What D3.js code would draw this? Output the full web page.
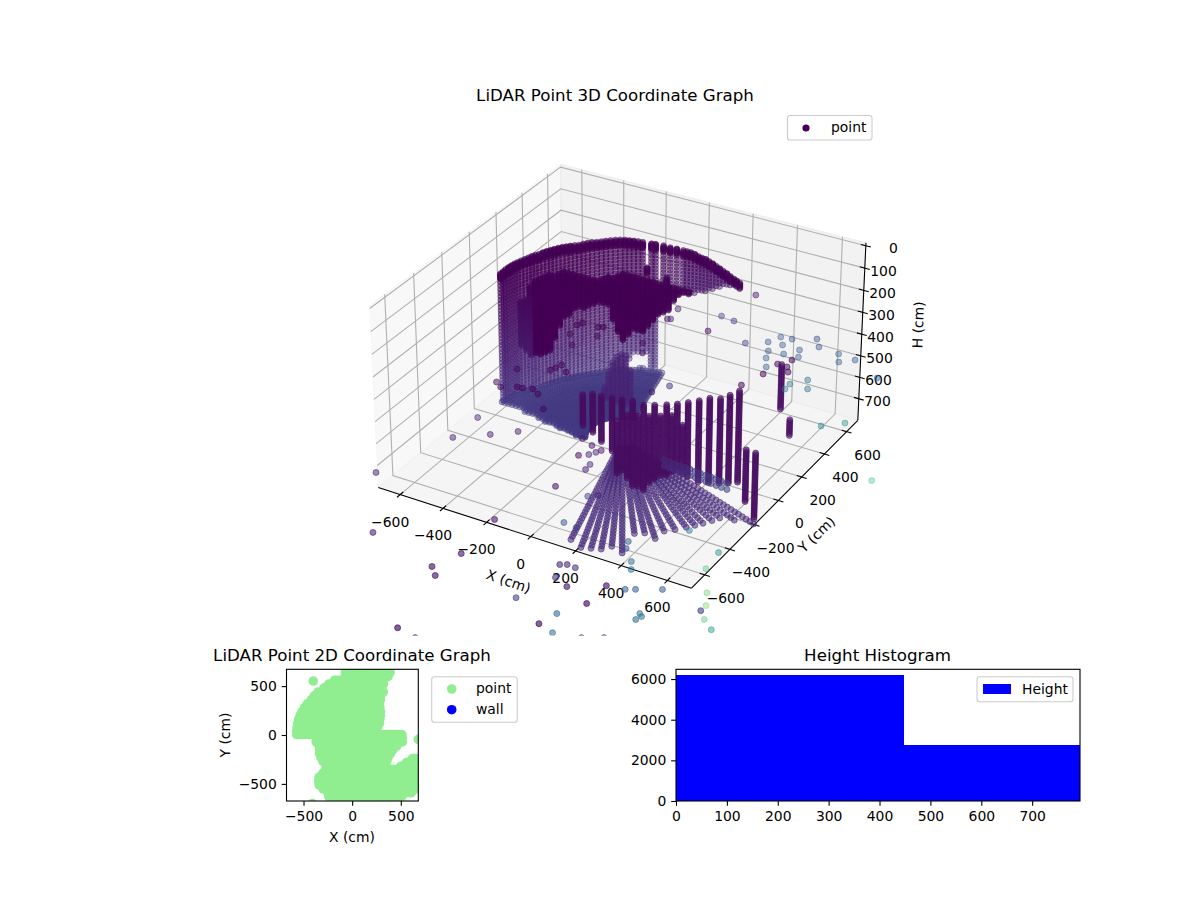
<!DOCTYPE html>
<html><head><meta charset="utf-8">
<script src="https://cdnjs.cloudflare.com/ajax/libs/d3/7.8.5/d3.min.js"></script>
<style>html,body{margin:0;background:#fff}text{font-family:"DejaVu Sans",sans-serif;fill:#000}</style>
</head><body><svg id="c" width="1200" height="900"></svg>
<script>
// ---------- data (cm) ----------
const titles3d = "LiDAR Point 3D Coordinate Graph";
const xyTicks = [-600,-400,-200,0,200,400,600];
const hTicks = [0,100,200,300,400,500,600,700];
const scanRows = [48,64,80,96,112,128,144,160,176,192,208,224,240,256,272,288,304,320,336,352,368,384,400,416,432,448,464,480,496,512,528,544,560,576,592,608,624,640,656,672,688,704,720,736,752,768,784];
// [x, y, first H, last H] wall columns of the far side
const wallColumns = [[-560,0,137,720],[-555,30,131,720],[-545,60,124,720],[-535,90,121,720],[-520,120,117,720],[-505,150,113,720],[-490,180,114,720],[-472,210,109,720],[-455,240,109,720],[-435,270,108,720],[-415,300,112,720],[-393,330,115,720],[-370,360,113,720],[-345,390,116,720],[-320,420,118,720],[-290,445,117,720],[-260,470,120,720],[-230,490,126,640],[-200,510,133,640],[-170,530,141,720],[-125,550,147,374],[-100,560,154,372],[-50,580,163,367],[-20,590,169,354],[10,600,184,350],[40,605,192,339],[70,610,205,324],[100,615,223,308],[130,620,240,293],[160,625,258,282],[185,630,273,285],
[-557,15,134,720],[-550,45,128,720],[-540,75,122,720],[-528,105,119,720],[-512,135,115,720],[-498,165,113,720],[-481,195,111,720],[-463,225,109,720],[-445,255,108,720],[-425,285,110,720],[-404,315,113,720],[-382,345,114,720],[-358,375,114,720],[-332,405,117,720],[-305,432,117,720],[-275,458,118,720],[-245,480,123,680],[-215,500,129,640],[-185,520,250,640],[-155,537,143,720],[-112,555,293,372],[-75,570,158,370],[-35,585,166,360],[-5,595,176,352],[25,602,188,345],[55,607,198,330],[85,612,214,316],[115,617,231,300],[145,622,249,288],[172,627,265,284]];
const rimDepths = [0,5,10,15,20,25];
// near dark mass under the ceiling
const nearColumns = [[-562,150,334,540],[-539,150,305,547],[-516,150,254,560],[-493,150,224,553],[-471,150,203,546],[-448,150,187,539],[-426,150,172,524],[-403,150,161,449],[-379,150,150,396],[-357,150,138,344],[-334,150,132,324],[-312,150,135,300],[-289,150,137,284],[-266,150,139,272],[-244,150,143,262],[-220,150,136,250],[-198,150,129,239],[-175,150,118,232],[-152,150,107,226],[-130,150,101,302],[-107,150,85,340],[-85,150,74,370],[-61,150,72,350],[-38,150,74,307],[-16,150,72,314],[7,150,70,316],[29,150,69,279],[52,150,67,240],[75,150,69,219],[98,150,67,199],[121,150,65,184],[144,150,68,131],[166,150,65,111],[189,150,68,95],[211,150,70,88]];
const nearDepths = [0,5,10];
// central stem
const stemColumns = [[-200,200,645,730],[-180,200,570,770],[-160,200,527,770],[-140,200,488,767],[-120,200,468,762],[-100,200,477,733],[-80,200,541,681]];
const stemValue = .09;
// front rods
const rodColumns = [[103,-479,244,397],[147,-480,230,410],[183,-477,226,445],[226,-470,225,479],[264,-461,236,547],[303,-448,236,608],[341,-431,242,628],[377,-411,243,585],[415,-386,244,565],[447,-361,248,547],[477,-331,255,590],[506,-298,246,620],[532,-262,247,633],[556,-221,257,648],[575,-180,263,665],[591,-134,268,684],[670,-220,455,690],[700,-200,470,780],[600,200,312,525],[640,205,547,629],
[245,-466,330,560],[284,-455,300,578],[322,-440,300,618],[359,-421,300,607],[396,-399,300,575],[431,-374,300,556],[462,-346,340,568]];
const rodDepths = [0,8];
const rodValue = .035;
// curved band behind the rod feet
const bandX = [486,509,532,555,579,602,625,648,672,695,718,741,765,508,531,554,577,601,624,647,670,694,717,740,763,787];
const bandY = [-529,-531,-534,-536,-538,-540,-543,-545,-547,-549,-552,-554,-556,-568,-570,-573,-575,-577,-579,-582,-584,-586,-588,-591,-593,-595];
// floor fan behind the rods: azimuth (deg), outer range (cm)
const fanAzimuth = [102,105,108,111,114,117,120,123,126,129,132,135,138,141,144,147,150,153,156,159,162,165,168,171,174,177,180,183,186,189,192,195,198,201,204,207,210,213];
const fanAzimuthB = [103.5,106.5,109.5,112.5,115.5,118.5,121.5,124.5,127.5,130.5,133.5,136.5,139.5,142.5,145.5,148.5,151.5,154.5,157.5,160.5,163.5,166.5,169.5,172.5,175.5,178.5,181.5,184.5,187.5,190.5,193.5,196.5,199.5,202.5,205.5,208.5,211.5,214.5];
const fanOuter = [530,540,545,548,540,535,531,531,525,520,518,516,515,514,514,514,514,514,518,522,526,530,535,540,548,555,558,451,378,330,288,258,234,215,199,186,175,166];
const fanRanges = [150,168,186,204,222,240,258,276,294,312,330,348,366,384,402,420,438,456,474,492,510,528,546,558];
const fanHeight = 720;
const fanValue = .17;
// front floor spokes: azimuth (deg), outer range (cm)
const spokeAzimuth = [-75.1,-71.4,-68.6,-65.8,-63,-60.1,-56.2,-52.9,-50.2,-46.6,-43,-39.2,-36.2,-33.3,-30,-27,-24,-20.9];
const spokeOuter = [766,808,801,796,793,831,687,691,735,705,693,684,690,699,700,699,740,805];
const spokeRanges = [70,92,114,136,158,180,200,222,244,266,288,310,332,354,376,398,420,442,464,486,508,530,552,574,596,618,640,662,684,706,728,750,772,794,816];
const spokeHeight = 740;
const spokeValue = .12;
// scattered returns: [x, y, H, colour value]
const scattered = [
[-697,-722,720,.08],[-580,-349,720,.08],[-463,-255,720,.06],[-379,-180,720,.06],[-577,-169,720,.08],[-128,-98,720,.06],[-68,-125,720,.05],[-17,-139,720,.06],[-76,-216,720,.03],[-44,-190,720,.1],[-28,-162,720,.1],[2,-293,720,.08],[-2,-252,720,.12],[-36,-458,720,.04],[-115,-777,720,.05],[-466,-1084,720,.08],[-98,-1039,720,.05],[-145,-1167,720,.04],[-102,-1211,720,.05],[-35,-1562,720,.05],[54,-1582,720,.05],[234,-1185,720,.2],[358,-1030,720,.07],[291,-1000,720,.15],[260,-918,720,.12],[284,-904,720,.12],[321,-907,720,.15],[125,-663,720,.25],[184,-670,720,.2],[109,-457,720,.2],[140,-431,720,.1],[481,-952,720,.05],[477,-1088,720,.05],[393,-1285,720,.06],[416,-1198,720,.33],[465,-1309,720,.38],[571,-1284,720,.08],[641,-1243,720,.1],[553,-938,720,.3],[586,-919,720,.28],[672,-870,720,.3],[481,-767,720,.35],[507,-814,720,.35],[403,-654,720,.3],[420,-700,720,.25],[677,-1047,720,.38],[692,-1060,720,.38],[683,-1087,720,.33],[566,-473,720,.4],[734,-551,720,.48],[745,-670,720,.7],[824,-807,720,.75],[861,-882,720,.78],[898,-963,720,.72],[860,-920,720,.2],[951,-1007,720,.55],[1009,194,720,.65],
[181,782,400,.02],[-38,518,400,.08],[-34,423,400,.05],[-23,430,400,.08],[144,554,400,.18],[207,543,400,.15],[156,418,400,.03],[332,406,400,.18],[407,459,400,.28],[432,520,400,.28],[479,528,400,.25],[565,578,400,.22],[468,466,400,.28],[441,395,400,.28],[545,464,400,.28],[601,524,400,.25],[505,404,400,.3],[567,411,400,.3],[694,513,400,.3],[723,456,400,.3],[772,502,400,.28],[460,340,400,.3],[493,278,400,.3],[508,223,400,.02],[681,268,400,.35],[712,206,400,.38],[635,205,400,.4],[636,162,400,.42],[909,418,400,.3],[952,48,400,.5],[883,-17,400,.45],[475,104,400,.03],[236,-42,400,.15],[199,-117,400,.08],[521,321,400,.02],[564,319,400,.02],[556,377,400,.01],[586,285,400,.02],
[-364,-353,400,.05],[-330,-377,400,.05],[-274,-345,400,.01],[-252,-342,400,.01],[-213,-328,400,.02],[-176,-351,400,.02],[-99,-438,400,.02],
[-325,197,400,0],[-315,222,400,0],[-243,225,400,0],[-225,235,400,0],[-312,120,400,.03],[-209,159,400,.03],[-259,47,400,.03],[-23,201,400,.03],[16,131,400,.03],[-230,-168,400,.02],[-221,-144,400,.02],[-212,-112,400,.02],[-169,-151,400,.01],[-348,-226,400,.03]];
// 2D plan: [y, x from, x to] covered spans, plus lone returns
const planRows = [[640,-70,390],[600,-70,370],[560,-180,320],[520,-240,320],[480,-290,300],[440,-350,320],[400,-390,290],[360,-420,290],[320,-460,280],[280,-490,285],[240,-515,290],[200,-535,290],[160,-550,285],[120,-560,280],[80,-565,260],[40,-570,240],[5,-570,510],[-30,-370,515],[-70,-370,515],[-110,-340,460],[-150,-335,420],[-190,-335,395],[-230,-320,370],[-270,-300,355],[-310,-270,340],[-240,620,680],[-280,560,680],[-320,500,680],[-350,-270,680],[-390,-300,680],[-430,-340,680],[-470,-345,680],[-510,-340,680],[-550,-300,680],[-590,-250,610],[-630,-240,510],[-665,-200,440]];
const planGridX = [-640,-600,-560,-520,-480,-440,-400,-360,-320,-280,-240,-200,-160,-120,-80,-40,0,40,80,120,160,200,240,280,320,360,400,440,480,520,560,600,640];
const planLone = [[-400,552],[680,-45],[-410,-700]];
const planTicks = [-500,0,500];
const histEdges = [0,448,795];
const histCounts = [6200,2760];
const histXTicks = [0,100,200,300,400,500,600,700];
const histYTicks = [0,2000,4000,6000];

// ---------- 3D projection (elev 30, azim -60, persp, dist 10) ----------
const svg = d3.select("#c");
const ext = 703, hLow = 802, hHigh = -13;
const wx = d3.scaleLinear([-ext,ext],[-.595,.595]);
const wy = d3.scaleLinear([-ext,ext],[-.595,.595]);
const wz = d3.scaleLinear([hLow,hHigh],[-.347,.347]);
const sx = d3.scaleLinear([0,1],[622.5,3622.5]);
const sy = d3.scaleLinear([0,1],[365,365-2990]);
function proj(x,y,h){
  const dx=wx(x),dy=wy(y),dz=wz(h);
  const a=.866*dx+.5*dy, b=-.25*dx+.433*dy+.866*dz, c=.433*dx-.75*dy+.5*dz;
  return {px:sx(a/(10-c)),py:sy(b/(10-c)),c};
}
const P=(x,y,h)=>{const p=proj(x,y,h);return [p.px,p.py];};
const poly=pts=>pts.map(p=>P(...p).join(",")).join(" ");
const X0=-ext,X1=ext,Y0=-ext,Y1=ext,Z0=hLow,Z1=hHigh;
const g3=svg.append("g");
g3.append("polygon").attr("points",poly([[X0,Y0,Z0],[X0,Y1,Z0],[X0,Y1,Z1],[X0,Y0,Z1]])).attr("fill","#f2f2f2").attr("fill-opacity",.5).attr("stroke","#f2f2f2").attr("stroke-opacity",.5);
g3.append("polygon").attr("points",poly([[X0,Y1,Z0],[X1,Y1,Z0],[X1,Y1,Z1],[X0,Y1,Z1]])).attr("fill","#e6e6e6").attr("fill-opacity",.5).attr("stroke","#e6e6e6").attr("stroke-opacity",.5);
g3.append("polygon").attr("points",poly([[X0,Y0,Z0],[X1,Y0,Z0],[X1,Y1,Z0],[X0,Y1,Z0]])).attr("fill","#ececec").attr("fill-opacity",.5).attr("stroke","#ececec").attr("stroke-opacity",.5);
const grid=g3.append("g").attr("fill","none").attr("stroke","#b0b0b0").attr("stroke-width",1.1);
const gridLine=pts=>grid.append("polyline").attr("points",poly(pts));
xyTicks.forEach(t=>{gridLine([[t,Y0,Z0],[t,Y1,Z0],[t,Y1,Z1]]);gridLine([[X0,t,Z1],[X0,t,Z0],[X1,t,Z0]]);});
hTicks.forEach(t=>{gridLine([[X0,Y0,t],[X0,Y1,t],[X1,Y1,t]]);});
const ax=g3.append("g").attr("fill","none").attr("stroke","#000").attr("stroke-width",1.1);
const axLine=pts=>ax.append("polyline").attr("points",poly(pts));
axLine([[X0,Y0,Z0],[X1,Y0,Z0]]);axLine([[X1,Y0,Z0],[X1,Y1,Z0]]);axLine([[X1,Y1,Z0],[X1,Y1,Z1]]);
const fmt=d3.format("d");
const label=(txt,x,y,anchor)=>svg.append("text").attr("x",x).attr("y",y).attr("text-anchor",anchor||"middle").attr("font-size",13.9).text(txt);
xyTicks.forEach(t=>{axLine([[t,Y0-22,Z0],[t,Y0+22,Z0]]);const p=P(t,Y0,Z0);label(fmt(t),p[0]-10,p[1]+32);});
xyTicks.forEach(t=>{axLine([[X1-22,t,Z0],[X1+22,t,Z0]]);const p=P(X1,t,Z0);label(fmt(t),p[0]+21,p[1]+28);});
hTicks.forEach(t=>{axLine([[X1-22,Y1,t],[X1+22,Y1,t]]);const p=P(X1,Y1,t);label(fmt(t),p[0]+32,p[1]+7.5,"end");});

// marks
const points=[];
const addColumns=(cols,t)=>cols.forEach(([x,y,a,b])=>scanRows.filter(h=>h>=a&&h<=b).forEach(h=>points.push({x,y,h,t})));
const polar=(az,r,h,t)=>points.push({x:r*Math.cos(az*Math.PI/180),y:r*Math.sin(az*Math.PI/180),h,t});
addColumns(wallColumns);
wallColumns.forEach(([x,y,a])=>rimDepths.forEach(dh=>points.push({x,y,h:a+dh,t:0})));
fanAzimuth.forEach((az,i)=>fanRanges.filter(r=>r<=fanOuter[i]).forEach(r=>polar(az,r,fanHeight,fanValue)));
fanAzimuthB.forEach((az,i)=>fanRanges.filter(r=>r<=fanOuter[i]).forEach(r=>polar(az,r,fanHeight,fanValue)));
spokeAzimuth.forEach((az,i)=>spokeRanges.filter(r=>r<=spokeOuter[i]).forEach(r=>polar(az,r,spokeHeight,spokeValue)));
bandX.forEach((x,i)=>points.push({x,y:bandY[i],h:400}));
const shadeOf=d3.scaleLinear([550,3000],[0,1]).clamp(true);
points.forEach(p=>{if(p.t===undefined)p.t=shadeOf(Math.hypot(p.x,p.y,p.h));});
rodDepths.forEach(dh=>rodColumns.forEach(([x,y,a,b])=>scanRows.filter(h=>h>=a&&h<=b).forEach(h=>points.push({x,y,h:h+dh,t:rodValue}))));
addColumns(stemColumns,stemValue);
nearDepths.forEach(dh=>nearColumns.forEach(([x,y,a,b])=>scanRows.filter(h=>h>=a&&h<=b).forEach(h=>points.push({x,y,h:h+dh,t:0}))));
scattered.forEach(([x,y,h,t])=>points.push({x,y,h,t}));
points.forEach(p=>{const q=proj(p.x,p.y,p.h);p.px=q.px;p.py=q.py;p.c=q.c;});
points.sort((a,b)=>a.c-b.c);
const alphaOf=d3.scaleLinear([-.8,1],[.36,.74]).clamp(true);
const op=d=>alphaOf(d.c)*(1-.6*d.t);
svg.append("clipPath").attr("id","clip3").append("rect").attr("x",0).attr("y",108).attr("width",1200).attr("height",527.5);
svg.append("g").attr("clip-path","url(#clip3)").selectAll("circle").data(points).join("circle")
 .attr("cx",d=>d.px).attr("cy",d=>d.py).attr("r",3).attr("stroke-width",1)
 .attr("fill",d=>d3.interpolateViridis(d.t)).attr("stroke",d=>d3.interpolateViridis(d.t))
 .attr("fill-opacity",op).attr("stroke-opacity",op);

const tt=(txt,x,y,size,rot)=>{const e=svg.append("text").attr("x",x).attr("y",y).attr("text-anchor","middle").attr("font-size",size).text(txt);if(rot!==undefined)e.attr("transform",`rotate(${rot} ${x} ${y})`);return e;};
tt(titles3d,615,100.5,16.67);
tt("X (cm)",507,586,13.9,19);
tt("Y (cm)",820,538,13.9,-44);
tt("H (cm)",923,325,13.9,-88);
function legendBox(x,y,w,h){svg.append("rect").attr("x",x).attr("y",y).attr("width",w).attr("height",h).attr("rx",2.8).attr("fill","#fff").attr("fill-opacity",.8).attr("stroke","#ccc").attr("stroke-width",1.1);}
legendBox(787.5,115.5,84.5,24.5);
svg.append("circle").attr("cx",806).attr("cy",128).attr("r",3.6).attr("fill",d3.interpolateViridis(0));
label("point",831,132,"start");

// ---------- 2D plan ----------
const pl={l:286.5,r:418.3,t:669.3,b:801};
const px=d3.scaleLinear([-675,680],[pl.l,pl.r]), py=d3.scaleLinear([-675,672],[pl.b,pl.t]);
const planPts=[];
planRows.forEach(([y,a,b])=>{planPts.push([a,y],[b,y]);planGridX.filter(x=>x>a&&x<b).forEach(x=>planPts.push([x,y]));});
planLone.forEach(p=>planPts.push(p));
svg.append("clipPath").attr("id","clipP").append("rect").attr("x",pl.l).attr("y",pl.t).attr("width",pl.r-pl.l).attr("height",pl.b-pl.t);
svg.append("g").attr("clip-path","url(#clipP)").selectAll("circle").data(planPts).join("circle").attr("cx",d=>px(d[0])).attr("cy",d=>py(d[1])).attr("r",4.8).attr("fill","#90ee90");
function frame(l,r,t,b){svg.append("rect").attr("x",l).attr("y",t).attr("width",r-l).attr("height",b-t).attr("fill","none").attr("stroke","#000").attr("stroke-width",1.1);}
function axis(gen,tx,ty,vals){const g=svg.append("g").attr("transform",`translate(${tx},${ty})`).call(gen.tickValues(vals).tickSize(4.86).tickPadding(4.86).tickFormat(d3.format("d")));
 g.select(".domain").remove();g.selectAll("line").attr("stroke-width",1.1);g.selectAll("text").attr("font-size",13.9).attr("font-family",'"DejaVu Sans",sans-serif');}
axis(d3.axisBottom(px),0,pl.b,planTicks);axis(d3.axisLeft(py),pl.l,0,planTicks);
frame(pl.l,pl.r,pl.t,pl.b);
tt("LiDAR Point 2D Coordinate Graph",352,660.5,16.67);
tt("X (cm)",352,842,13.9);
tt("Y (cm)",230,735,13.9,-90);
legendBox(431.7,676.7,85.6,45.6);
svg.append("circle").attr("cx",451.7).attr("cy",689).attr("r",4.8).attr("fill","#90ee90");
svg.append("circle").attr("cx",451.7).attr("cy",709.7).attr("r",4.8).attr("fill","#0000ff");
label("point",476,693,"start");label("wall",476,713.5,"start");

// ---------- histogram ----------
const hl={l:676,r:1080,t:669.3,b:801};
const hx=d3.scaleLinear([0,794],[hl.l,hl.r]), hy=d3.scaleLinear([0,6480],[hl.b,hl.t]);
svg.append("g").attr("shape-rendering","crispEdges").selectAll("rect").data(histCounts).join("rect").attr("x",(d,i)=>hx(histEdges[i])).attr("width",(d,i)=>Math.min(hx(histEdges[i+1]),hl.r)-hx(histEdges[i])).attr("y",d=>hy(d)).attr("height",d=>hl.b-hy(d)).attr("fill","#0000ff");
axis(d3.axisBottom(hx),0,hl.b,histXTicks);axis(d3.axisLeft(hy),hl.l,0,histYTicks);
frame(hl.l,hl.r,hl.t,hl.b);
tt("Height Histogram",877.5,660.5,16.67);
legendBox(977,676.7,96,25);
svg.append("rect").attr("x",983).attr("y",684).attr("width",28).attr("height",10).attr("fill","#0000ff");
label("Height",1022,694,"start");
</script></body></html>
